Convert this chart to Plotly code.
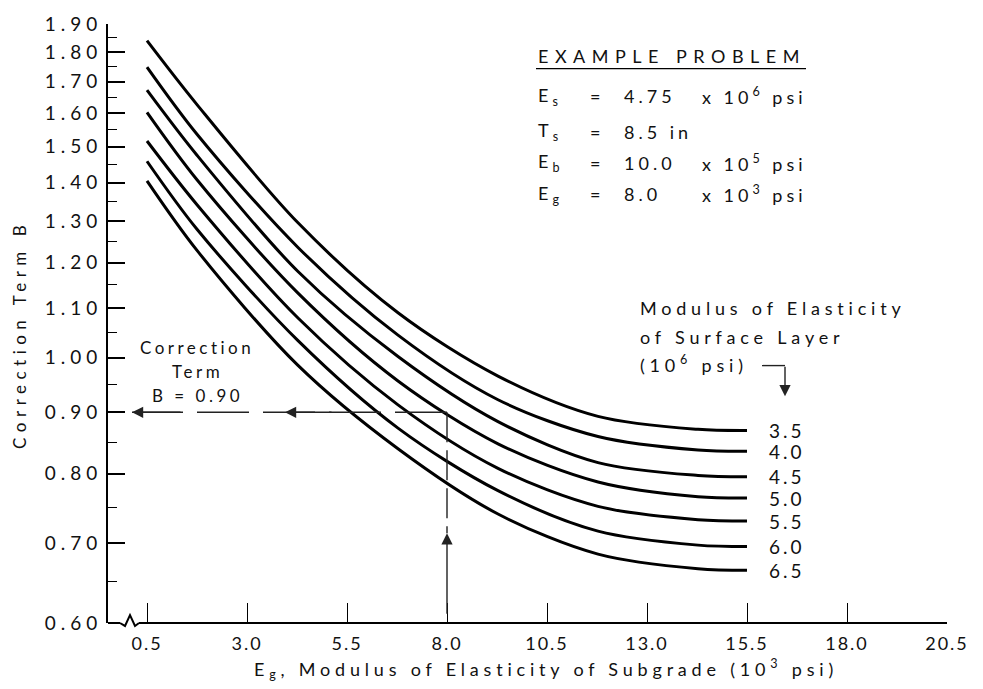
import numpy as np
import plotly.graph_objects as go

# ---- data -----------------------------------------------------------------
# Subgrade modulus Eg (10^3 psi) at which each curve is sampled
eg = [0.5, 1.75, 4.275, 6.775, 9.275, 11.775, 14.275, 15.5]

# Modulus of elasticity of the surface layer (10^6 psi), one curve each
surface_moduli = ["3.5", "4.0", "4.5", "5.0", "5.5", "6.0", "6.5"]

# Correction term B for each surface modulus
b_35 = [1.840, 1.627, 1.296, 1.090, 0.965, 0.893, 0.871, 0.869]
b_40 = [1.749, 1.537, 1.236, 1.044, 0.922, 0.859, 0.837, 0.835]
b_45 = [1.673, 1.476, 1.180, 1.002, 0.884, 0.817, 0.797, 0.795]
b_50 = [1.603, 1.408, 1.132, 0.956, 0.847, 0.787, 0.765, 0.763]
b_55 = [1.517, 1.342, 1.079, 0.913, 0.808, 0.751, 0.732, 0.730]
b_60 = [1.459, 1.280, 1.033, 0.873, 0.774, 0.716, 0.697, 0.695]
b_65 = [1.405, 1.229, 0.985, 0.839, 0.740, 0.685, 0.666, 0.664]
curves = [b_35, b_40, b_45, b_50, b_55, b_60, b_65]

# Axis ticks
y_ticks = [0.60, 0.70, 0.80, 0.90, 1.00, 1.10, 1.20, 1.30, 1.40, 1.50, 1.60, 1.70, 1.80, 1.90]
y_minor = [0.65, 0.75, 0.85, 0.95, 1.05, 1.15, 1.25, 1.35, 1.45, 1.55, 1.65, 1.75, 1.85]
x_ticks = [0.5, 3.0, 5.5, 8.0, 10.5, 13.0, 15.5, 18.0, 20.5]
x_ticktext = ["0.5", "3.0", "5.5", "8.0", "10.5", "13.0", "15.5", "18.0", "20.5"]

# Worked example
example_eg = 8.0
example_b = 0.90
example_rows = [
    ("E<sub>s</sub>", "=", "4.75", "x 10<sup>6</sup> psi"),
    ("T<sub>s</sub>", "=", "8.5 in", ""),
    ("E<sub>b</sub>", "=", "10.0", "x 10<sup>5</sup> psi"),
    ("E<sub>g</sub>", "=", "8.0", "x 10<sup>3</sup> psi"),
]

# ---- layout helpers ---------------------------------------------------------
W, H = 983, 689
ML, MR, MT, MB = 108, 36, 18, 66
PW, PH = W - ML - MR, H - MT - MB
X_RANGE = [-0.475, 20.5]
Y_RANGE = [np.log10(0.60), np.log10(1.90)]
FONT = "Lato"
INK = "#111111"


def px(x):
    return (x - ML) / PW


def py(y):
    return (H - MB - y) / PH


def spaced(text, sp):
    return f'<span style="letter-spacing:{sp}px">{text}</span>'


fig = go.Figure()

for vals in curves:
    fig.add_trace(go.Scatter(
        x=eg, y=vals, mode="lines",
        line=dict(color="black", width=3, shape="spline", smoothing=0.9),
        hoverinfo="skip", showlegend=False,
    ))

guide_start = 0.125
fig.add_trace(go.Scatter(
    x=[example_eg, guide_start], y=[example_b, example_b], mode="lines",
    line=dict(color="#222", width=1.4, dash="52px,14px"),
    hoverinfo="skip", showlegend=False,
))
fig.add_trace(go.Scatter(
    x=[example_eg, example_eg], y=[example_b, 0.713], mode="lines",
    line=dict(color="#222", width=1.4, dash="30px,8px"),
    hoverinfo="skip", showlegend=False,
))

annotations = []

# Arrowheads on the guide lines
for xa, axo in [(guide_start, 50), (3.95, 48)]:
    annotations.append(dict(
        x=xa, y=np.log10(example_b), xref="x", yref="y", text="",
        showarrow=True, arrowhead=2, arrowsize=1.6, arrowwidth=1.4,
        arrowcolor="#222", ax=axo, ay=0,
    ))
annotations.append(dict(
    x=example_eg, y=np.log10(0.713), xref="x", yref="y", text="",
    showarrow=True, arrowhead=2, arrowsize=1.6, arrowwidth=1.4,
    arrowcolor="#222", ax=0, ay=82,
))

# Curve labels at the right-hand ends
for name, vals in zip(surface_moduli, curves):
    annotations.append(dict(
        x=16.0, y=np.log10(vals[-1]), xref="x", yref="y",
        text=spaced(name, 3), showarrow=False, xanchor="left", yanchor="middle",
        font=dict(family=FONT, size=19, color=INK),
    ))

# Legend heading for the curve family
for txt, yy in [("Modulus of Elasticity", 305), ("of Surface Layer", 334),
                ("(10<sup>6</sup> psi)", 361)]:
    annotations.append(dict(
        x=px(638), y=py(yy), xref="paper", yref="paper", text=spaced(txt, 4.8),
        showarrow=False, xanchor="left", yanchor="middle",
        font=dict(family=FONT, size=18, color=INK),
    ))
annotations.append(dict(
    x=px(785), y=py(394), xref="paper", yref="paper", text="",
    showarrow=True, arrowhead=2, arrowsize=1.6, arrowwidth=1.4,
    arrowcolor="#222", ax=0, ay=-31,
))

# Example problem block
annotations.append(dict(
    x=px(536), y=py(50), xref="paper", yref="paper",
    text=spaced("EXAMPLE PROBLEM", 6.5), showarrow=False,
    xanchor="left", yanchor="middle", font=dict(family=FONT, size=18, color=INK),
))
for i, (sym, sign, val, unit) in enumerate(example_rows):
    yy = [91, 127, 158, 190][i]
    for xx, txt in [(536, sym), (588, sign), (622, val), (700, unit)]:
        if not txt:
            continue
        annotations.append(dict(
            x=px(xx), y=py(yy), xref="paper", yref="paper", text=spaced(txt, 4),
            showarrow=False, xanchor="left", yanchor="middle",
            font=dict(family=FONT, size=18, color=INK),
        ))

# Read-off note
for txt, yy in [("Correction", 345), ("Term", 369), ("B = 0.90", 393)]:
    annotations.append(dict(
        x=px(197), y=py(yy), xref="paper", yref="paper", text=spaced(txt, 3.5),
        showarrow=False, xanchor="center", yanchor="middle",
        font=dict(family=FONT, size=17, color=INK),
    ))

# Axis titles
annotations.append(dict(
    x=px(20), y=py(332), xref="paper", yref="paper",
    text=spaced("Correction Term B", 5.5), textangle=-90, showarrow=False,
    xanchor="center", yanchor="middle", font=dict(family=FONT, size=17, color=INK),
))
annotations.append(dict(
    x=px(546), y=py(669), xref="paper", yref="paper",
    text=spaced("E<sub>g</sub>, Modulus of Elasticity of Subgrade (10<sup>3</sup> psi)", 4.8),
    showarrow=False, xanchor="center", yanchor="middle",
    font=dict(family=FONT, size=18, color=INK),
))

# Shapes: broken x axis, underline, legend arrow elbow
shapes = [
    dict(type="line", xref="paper", yref="paper", x0=0, x1=px(120), y0=0, y1=0,
         line=dict(color="black", width=2)),
    dict(type="path", xref="paper", yref="paper",
         path=(f"M {px(120)},{py(623)} L {px(125)},{py(626)} L {px(130)},{py(615)} "
               f"L {px(135)},{py(626)} L {px(139)},{py(623)}"),
         line=dict(color="black", width=2)),
    dict(type="line", xref="paper", yref="paper", x0=px(139), x1=1, y0=0, y1=0,
         line=dict(color="black", width=2)),
    dict(type="line", xref="paper", yref="paper", x0=px(536), x1=px(806),
         y0=py(63), y1=py(63), line=dict(color="black", width=1.2)),
    dict(type="line", xref="paper", yref="paper", x0=px(762), x1=px(785),
         y0=py(363), y1=py(363), line=dict(color="#222", width=1.4)),
]

fig.update_layout(
    width=W, height=H,
    margin=dict(l=ML, r=MR, t=MT, b=MB, pad=0),
    paper_bgcolor="white", plot_bgcolor="white",
    font=dict(family=FONT, color=INK),
    showlegend=False,
    annotations=annotations,
    shapes=shapes,
    xaxis=dict(
        range=X_RANGE, showgrid=False, zeroline=False, showline=False,
        tickmode="array", tickvals=x_ticks,
        ticktext=[spaced(t, 2) for t in x_ticktext],
        ticks="inside", ticklen=20, tickwidth=1, tickcolor="black",
        tickfont=dict(family=FONT, size=18, color=INK),
        ticklabelstandoff=8,
    ),
    yaxis=dict(
        type="log", range=Y_RANGE, showgrid=False, zeroline=False,
        showline=True, linecolor="black", linewidth=2,
        tickmode="array", tickvals=y_ticks,
        ticktext=[spaced(f"{v:.2f}", 5) for v in y_ticks],
        ticks="inside", ticklen=17, tickwidth=1.5, tickcolor="black",
        tickfont=dict(family=FONT, size=19, color=INK),
        minor=dict(tickmode="array", tickvals=y_minor, ticks="inside",
                   ticklen=9, tickwidth=1.2, tickcolor="black", showgrid=False),
    ),
)

fig.write_html("out.html")
